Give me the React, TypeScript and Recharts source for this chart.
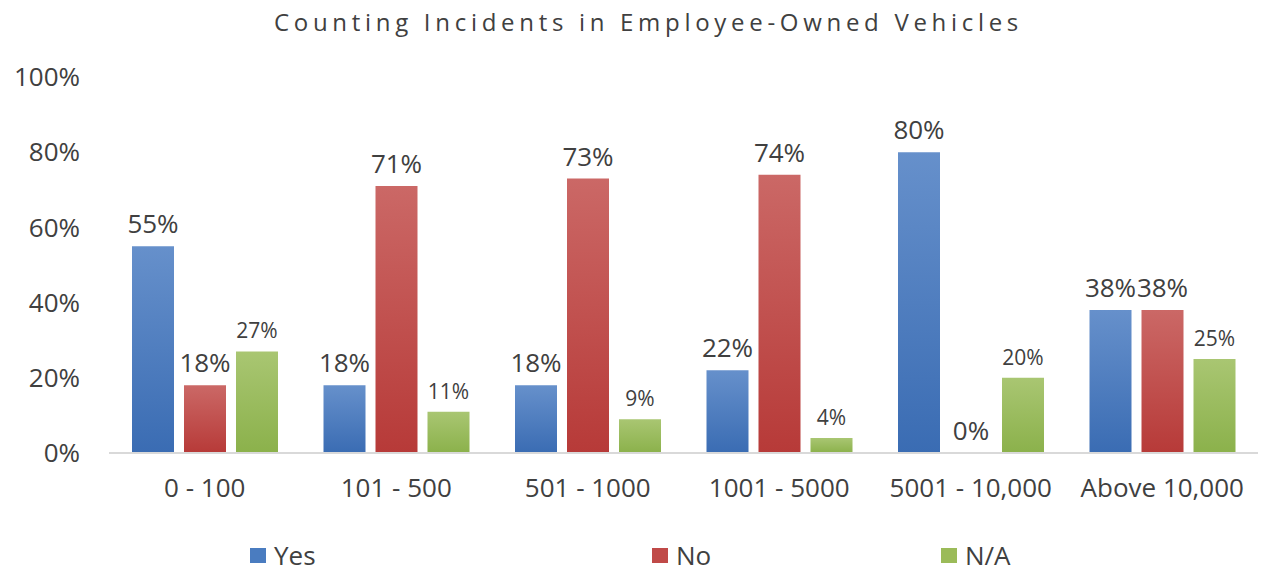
import { BarChart, Bar, XAxis, YAxis, LabelList, Legend } from "recharts";

const categories = ["0 - 100", "101 - 500", "501 - 1000", "1001 - 5000", "5001 - 10,000", "Above 10,000"];
const yesValues = [55, 18, 18, 22, 80, 38];
const noValues = [18, 71, 73, 74, 0, 38];
const naValues = [27, 11, 9, 4, 20, 25];
const yTicks = [0, 20, 40, 60, 80, 100];

const series = [
  { key: "yes", name: "Yes", top: "#6690cb", bottom: "#3a6cb3", legend: "#4a7cc0", labelSize: 26 },
  { key: "no", name: "No", top: "#cb6866", bottom: "#b73a38", legend: "#c04a48", labelSize: 26 },
  { key: "na", name: "N/A", top: "#a9c672", bottom: "#8bb14b", legend: "#9bbb59", labelSize: 21 },
];

const data = categories.map((c, i) => ({
  cat: c,
  yes: yesValues[i],
  no: noValues[i],
  na: naValues[i],
}));

const FONT = "'Open Sans', sans-serif";
const INK = "#404040";
const legendLeft = [250, 652, 941];

function ChartLegend() {
  return (
    <div style={{ position: "relative", height: 36, width: 1261 }}>
      {series.map((s, i) => (
        <div
          key={s.key}
          style={{
            position: "absolute",
            left: legendLeft[i],
            top: 0,
            height: 36,
            lineHeight: "36px",
            display: "flex",
            alignItems: "center",
            fontFamily: FONT,
            fontSize: 26,
            color: INK,
          }}
        >
          <span style={{ width: 16, height: 15, background: s.legend, marginRight: 8, display: "inline-block" }} />
          {s.name}
        </div>
      ))}
    </div>
  );
}

// draws the value above each bar, also when the bar has (almost) zero height
function makeLabel(size: number) {
  return (props: any) => {
    const { x, y, width, height, value } = props;
    if (value == null) return null;
    const top = Math.min(Number(y), Number(y) + Number(height || 0));
    return (
      <text
        x={Number(x) + Number(width) / 2}
        y={top - 13}
        textAnchor="middle"
        fill={INK}
        fontSize={size}
        fontFamily={FONT}
      >
        {`${value}%`}
      </text>
    );
  };
}

export default function App() {
  return (
    <div style={{ position: "absolute", left: 0, top: 0, width: 1261, height: 573, background: "#fff" }}>
      <div
        style={{
          position: "absolute",
          top: 5,
          left: 0,
          width: 1261,
          textAlign: "center",
          fontFamily: FONT,
          fontSize: 24,
          letterSpacing: 4.7,
          color: INK,
          paddingLeft: 36,
          boxSizing: "border-box",
        }}
      >
        Counting Incidents in Employee-Owned Vehicles
      </div>
      <BarChart
        width={1261}
        height={573}
        data={data}
        margin={{ top: 77, right: 3, left: 0, bottom: 0 }}
        barSize={42}
        barGap={10}
      >
        <defs>
          {series.map((s) => (
            <linearGradient key={s.key} id={`grad-${s.key}`} x1="0" y1="0" x2="0" y2="1">
              <stop offset="0%" stopColor={s.top} />
              <stop offset="100%" stopColor={s.bottom} />
            </linearGradient>
          ))}
        </defs>
        <XAxis
          dataKey="cat"
          height={84}
          tickLine={false}
          axisLine={{ stroke: "#d9d9d9", strokeWidth: 2 }}
          tickSize={0}
          tickMargin={26}
          tick={{ fill: INK, fontSize: 26, fontFamily: FONT }}
          interval={0}
        />
        <YAxis
          width={109}
          domain={[0, 100]}
          ticks={yTicks}
          tickFormatter={(v) => `${v}%`}
          axisLine={false}
          tickLine={false}
          tickSize={0}
          tickMargin={29}
          tick={{ fill: INK, fontSize: 26, fontFamily: FONT }}
        />
        <Legend verticalAlign="bottom" height={36} content={() => <ChartLegend />} />
        {series.map((s) => (
          <Bar
            key={s.key}
            dataKey={s.key}
            name={s.name}
            fill={`url(#grad-${s.key})`}
            minPointSize={(v: number) => (v === 0 ? 0.01 : 0)}
            isAnimationActive={false}
          >
            <LabelList dataKey={s.key} content={makeLabel(s.labelSize)} />
          </Bar>
        ))}
      </BarChart>
    </div>
  );
}
